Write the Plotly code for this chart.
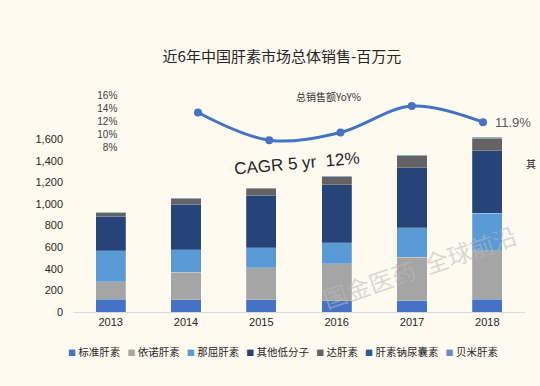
import plotly.graph_objects as go

years = ["2013", "2014", "2015", "2016", "2017", "2018"]
series_names = ["标准肝素", "依诺肝素", "那屈肝素", "其他低分子", "达肝素", "肝素钠尿囊素", "贝米肝素"]
biaozhun = [120, 112, 112, 102, 102, 118]
yinuo = [160, 257, 297, 344, 403, 449]
naqu = [287, 208, 186, 196, 273, 347]
qita = [320, 418, 487, 536, 555, 577]
dagan = [31, 53, 62, 71, 112, 118]
nangsu = [4, 5, 5, 8, 6, 6]
beimi = [2, 2, 2, 3, 3, 3]
series_values = [biaozhun, yinuo, naqu, qita, dagan, nangsu, beimi]
colors = ["#4472C4", "#A5A5A5", "#5B9BD5", "#264478", "#636363", "#255E91", "#698ED0"]

yoy_years = [2014, 2015, 2016, 2017, 2018]
yoy = [13.4, 9.1, 10.3, 14.4, 11.9]
y_ticks = [0, 200, 400, 600, 800, 1000, 1200, 1400, 1600]
yoy_ticks = [8, 10, 12, 14, 16]

BG = "#FFFAEF"
CJK = "Noto Sans CJK SC"
LAT = "Liberation Sans, Arial, sans-serif"

fig = go.Figure()
for name, vals, col in zip(series_names, series_values, colors):
    fig.add_trace(go.Bar(
        x=years, y=vals, name=name, marker=dict(color=col, line=dict(color="rgba(255,255,255,0.35)", width=0.6)),
        showlegend=False, xaxis="x", yaxis="y"))

fig.add_trace(go.Scatter(
    x=yoy_years, y=yoy, mode="lines+markers", xaxis="x2", yaxis="y2",
    line=dict(color="#4472C4", width=3, shape="spline", smoothing=1.0),
    marker=dict(color="#4472C4", size=8), cliponaxis=False, showlegend=False))

legend_text = "\u00a0\u00a0\u00a0".join(
    f"<span style='color:{c};font-size:8px'>■</span>\u00a0{n}" for n, c in zip(series_names, colors))

fig.update_layout(
    width=540, height=386,
    margin=dict(l=73, r=15, t=80, b=74),
    paper_bgcolor=BG, plot_bgcolor="rgba(0,0,0,0)",
    barmode="stack", bargap=0.6,
    title=dict(text="近6年中国肝素市场总体销售-百万元", x=0.522, xref="container", y=1 - 57 / 386,
               yref="container", xanchor="center", yanchor="middle",
               font=dict(family=CJK, size=15, color="#262626")),
    xaxis=dict(type="category", range=[-0.5, 5.5], domain=[0, 1], showline=True, linecolor="#D9D9D9",
               linewidth=1, ticks="", showgrid=False, zeroline=False,
               tickfont=dict(family=LAT, size=11, color="#262626"), anchor="y"),
    yaxis=dict(range=[0, 2146], domain=[0, 1], tickvals=y_ticks, tickformat=",d", showgrid=False,
               zeroline=False, showline=False, ticks="", ticklabelstandoff=9,
               tickfont=dict(family=LAT, size=11, color="#262626"), anchor="x"),
    xaxis2=dict(range=[2013.7, 2018.3], domain=[0.2292, 0.9544], visible=False, anchor="y2"),
    yaxis2=dict(range=[8, 16], domain=[0.7099, 0.9323], tickvals=yoy_ticks,
                ticktext=[f"{v}%" for v in yoy_ticks],
                anchor="free", position=0.098, side="left", showgrid=False, zeroline=False,
                showline=False, ticks="", tickfont=dict(family=LAT, size=10, color="#404040")),
    font=dict(family=LAT),
)

fig.add_annotation(x=yoy_years[-1], y=yoy[-1], xref="x2", yref="y2", text=f"{yoy[-1]}%",
                   showarrow=False, xanchor="left", xshift=10,
                   font=dict(family=LAT, size=13, color="#595959"))
fig.add_annotation(x=(328 - 73) / 452, y=(312 - 96) / 232, xref="paper", yref="paper",
                   xanchor="center", yanchor="middle",
                   text="总销售额YoY%", showarrow=False, font=dict(family=CJK, size=10, color="#333333"))
fig.add_annotation(x=(297 - 73) / 452, y=(312 - 163) / 232, xref="paper", yref="paper",
                   xanchor="center", yanchor="middle",
                   text="CAGR 5 yr\u00a0\u00a012%", showarrow=False, textangle=-5,
                   font=dict(family=LAT, size=17, color="#262626"))
fig.add_annotation(x=(524 - 73) / 452, y=(312 - 163) / 232, xref="paper", yref="paper",
                   text="其", showarrow=False, xanchor="left", yanchor="middle",
                   font=dict(family=CJK, size=10, color="#262626"))
fig.add_annotation(x=(419 - 73) / 452, y=(312 - 266) / 232, xref="paper", yref="paper",
                   xanchor="center", yanchor="middle",
                   text="国金医药\u00a0\u00a0全球前沿", showarrow=False, textangle=-19,
                   font=dict(family=CJK, size=24, color="rgba(185,185,185,0.55)"))
fig.add_annotation(x=(283 - 73) / 452, y=(312 - 351) / 232, xref="paper", yref="paper",
                   text=legend_text, showarrow=False, xanchor="center", yanchor="middle",
                   font=dict(family=CJK, size=10.5, color="#262626"))

fig.write_html("out.html", config={"displayModeBar": False},
               post_script="document.body.style.margin='0';document.body.style.background='%s';" % BG)
